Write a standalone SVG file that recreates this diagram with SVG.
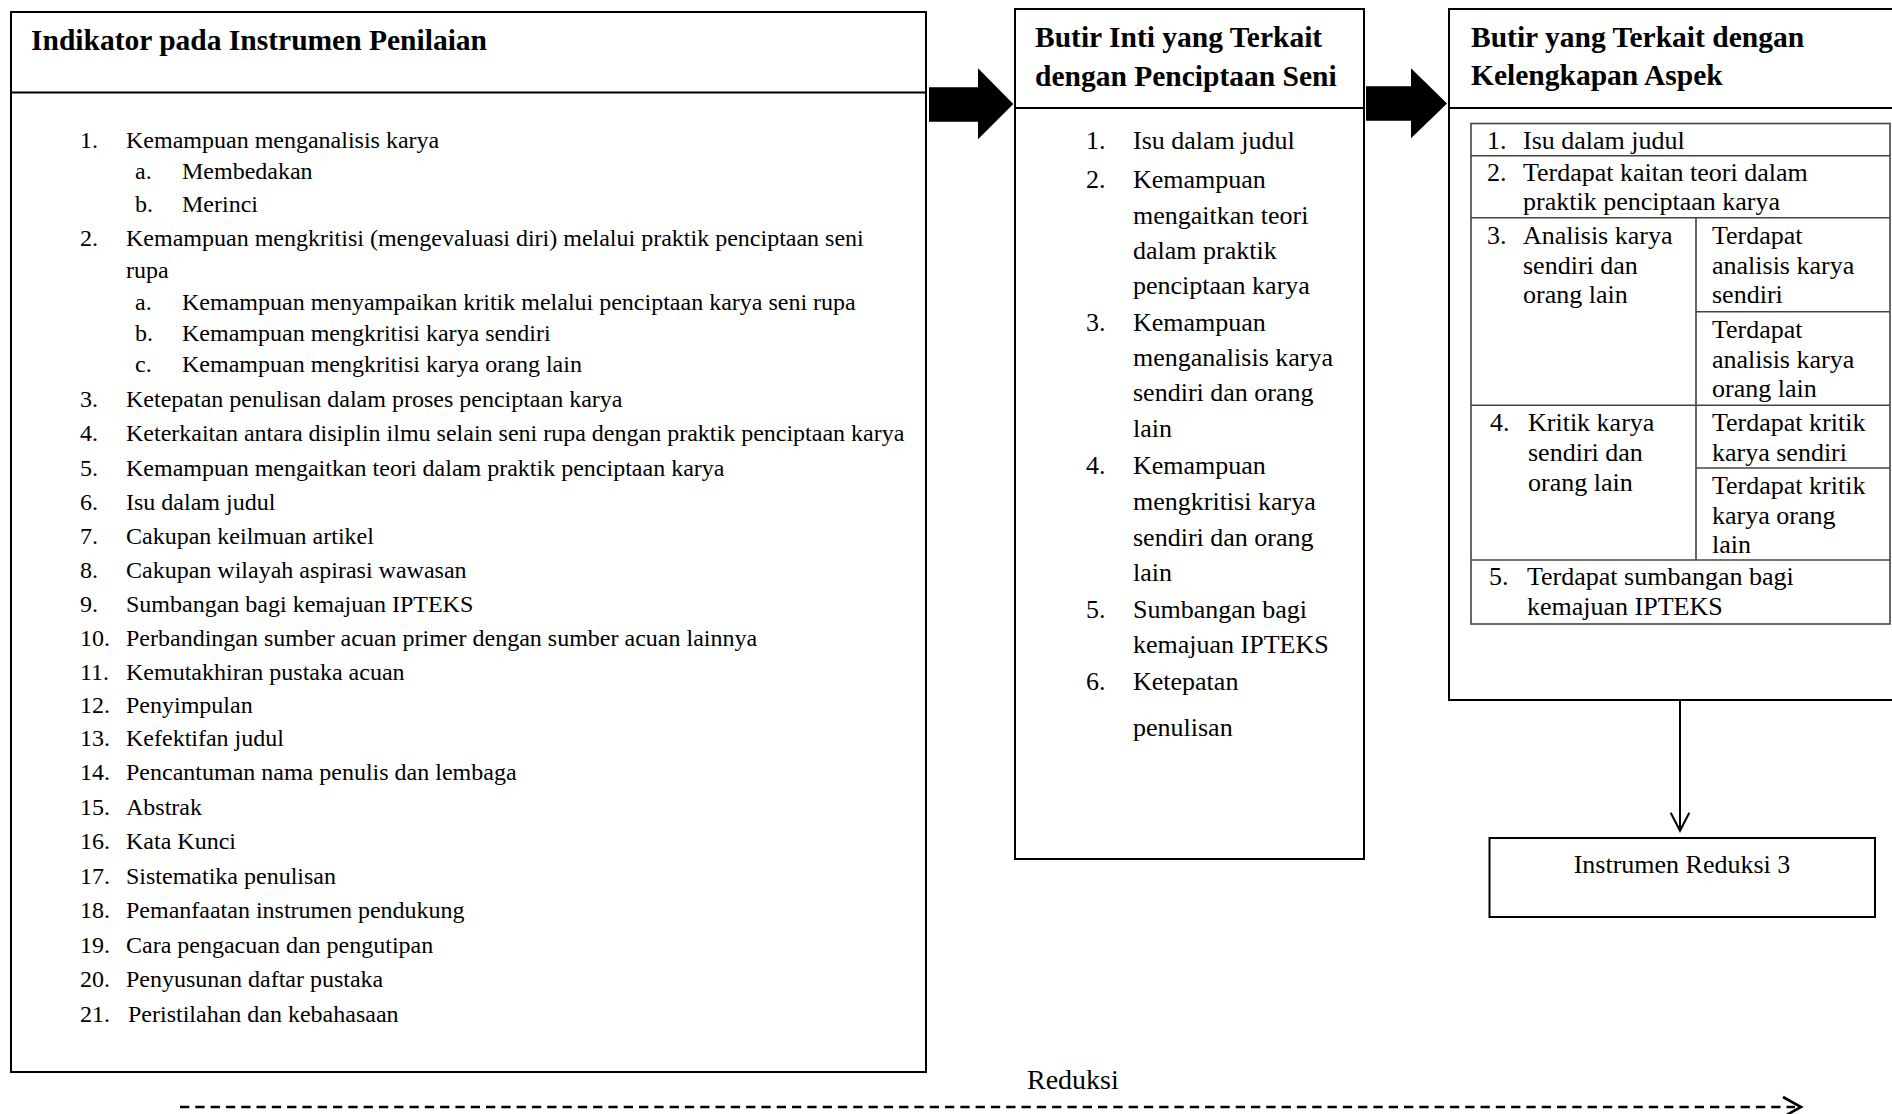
<svg xmlns="http://www.w3.org/2000/svg" width="1892" height="1114" viewBox="0 0 1892 1114">
<style>
text{font-family:"Liberation Serif","Times New Roman",serif;fill:#000}
.t{font-size:29.5px;font-weight:bold}
.l{font-size:24px}
.m{font-size:26px}
.g{font-size:26px}
.box{fill:#fff;stroke:#000;stroke-width:2}
.hl{stroke:#000;stroke-width:2}
.tb{fill:none;stroke:#444;stroke-width:1.6}
.conn{fill:none;stroke:#000}
</style>
<rect width="1892" height="1114" fill="#fff"/>

<g id="node-indikator">
<rect class="box" x="11" y="12" width="915" height="1060"/>
<line class="hl" x1="11" y1="92.5" x2="926" y2="92.5"/>
<text class="t" x="31" y="50">Indikator pada Instrumen Penilaian</text>
<g class="l">
<text x="80" y="148">1.</text><text x="126" y="148">Kemampuan menganalisis karya</text>
<text x="135" y="179">a.</text><text x="182" y="179">Membedakan</text>
<text x="135" y="212">b.</text><text x="182" y="212">Merinci</text>
<text x="80" y="246">2.</text><text x="126" y="246">Kemampuan mengkritisi (mengevaluasi diri) melalui praktik penciptaan seni</text>
<text x="126" y="278">rupa</text>
<text x="135" y="310">a.</text><text x="182" y="310">Kemampuan menyampaikan kritik melalui penciptaan karya seni rupa</text>
<text x="135" y="341">b.</text><text x="182" y="341">Kemampuan mengkritisi karya sendiri</text>
<text x="135" y="372">c.</text><text x="182" y="372">Kemampuan mengkritisi karya orang lain</text>
<text x="80" y="407">3.</text><text x="126" y="407">Ketepatan penulisan dalam proses penciptaan karya</text>
<text x="80" y="441">4.</text><text x="126" y="441">Keterkaitan antara disiplin ilmu selain seni rupa dengan praktik penciptaan karya</text>
<text x="80" y="476">5.</text><text x="126" y="476">Kemampuan mengaitkan teori dalam praktik penciptaan karya</text>
<text x="80" y="510">6.</text><text x="126" y="510">Isu dalam judul</text>
<text x="80" y="544">7.</text><text x="126" y="544">Cakupan keilmuan artikel</text>
<text x="80" y="578">8.</text><text x="126" y="578">Cakupan wilayah aspirasi wawasan</text>
<text x="80" y="612">9.</text><text x="126" y="612">Sumbangan bagi kemajuan IPTEKS</text>
<text x="80" y="646">10.</text><text x="126" y="646">Perbandingan sumber acuan primer dengan sumber acuan lainnya</text>
<text x="80" y="680">11.</text><text x="126" y="680">Kemutakhiran pustaka acuan</text>
<text x="80" y="713">12.</text><text x="126" y="713">Penyimpulan</text>
<text x="80" y="746">13.</text><text x="126" y="746">Kefektifan judul</text>
<text x="80" y="780">14.</text><text x="126" y="780">Pencantuman nama penulis dan lembaga</text>
<text x="80" y="815">15.</text><text x="126" y="815">Abstrak</text>
<text x="80" y="849">16.</text><text x="126" y="849">Kata Kunci</text>
<text x="80" y="884">17.</text><text x="126" y="884">Sistematika penulisan</text>
<text x="80" y="918">18.</text><text x="126" y="918">Pemanfaatan instrumen pendukung</text>
<text x="80" y="953">19.</text><text x="126" y="953">Cara pengacuan dan pengutipan</text>
<text x="80" y="987">20.</text><text x="126" y="987">Penyusunan daftar pustaka</text>
<text x="80" y="1022">21.</text><text x="128" y="1022">Peristilahan dan kebahasaan</text>
</g>
</g>

<g id="node-butir-inti">
<rect class="box" x="1015" y="9" width="349" height="850"/>
<line class="hl" x1="1015" y1="108" x2="1364" y2="108"/>
<text class="t" x="1035" y="47">Butir Inti yang Terkait</text>
<text class="t" x="1035" y="86">dengan Penciptaan Seni</text>
<g class="m">
<text x="1086" y="149">1.</text><text x="1133" y="149">Isu dalam judul</text>
<text x="1086" y="188">2.</text><text x="1133" y="188">Kemampuan</text>
<text x="1133" y="224">mengaitkan teori</text>
<text x="1133" y="259">dalam praktik</text>
<text x="1133" y="294">penciptaan karya</text>
<text x="1086" y="331">3.</text><text x="1133" y="331">Kemampuan</text>
<text x="1133" y="366">menganalisis karya</text>
<text x="1133" y="401">sendiri dan orang</text>
<text x="1133" y="437">lain</text>
<text x="1086" y="474">4.</text><text x="1133" y="474">Kemampuan</text>
<text x="1133" y="510">mengkritisi karya</text>
<text x="1133" y="546">sendiri dan orang</text>
<text x="1133" y="581">lain</text>
<text x="1086" y="618">5.</text><text x="1133" y="618">Sumbangan bagi</text>
<text x="1133" y="653">kemajuan IPTEKS</text>
<text x="1086" y="690">6.</text><text x="1133" y="690">Ketepatan</text>
<text x="1133" y="736">penulisan</text>
</g>
</g>

<g id="node-kelengkapan">
<rect class="box" x="1449" y="9" width="460" height="691"/>
<line class="hl" x1="1449" y1="108" x2="1892" y2="108"/>
<text class="t" x="1471" y="47">Butir yang Terkait dengan</text>
<text class="t" x="1471" y="85">Kelengkapan Aspek</text>
<g class="tb">
<rect x="1471" y="123.5" width="419" height="500.5"/>
<line x1="1471" y1="155.7" x2="1890" y2="155.7"/>
<line x1="1471" y1="217.7" x2="1890" y2="217.7"/>
<line x1="1471" y1="405.3" x2="1890" y2="405.3"/>
<line x1="1471" y1="560" x2="1890" y2="560"/>
<line x1="1696" y1="217.7" x2="1696" y2="560"/>
<line x1="1696" y1="311.7" x2="1890" y2="311.7"/>
<line x1="1696" y1="468" x2="1890" y2="468"/>
</g>
<g class="g">
<text x="1487" y="149">1.</text><text x="1523" y="149">Isu dalam judul</text>
<text x="1487" y="181">2.</text><text x="1523" y="181">Terdapat kaitan teori dalam</text>
<text x="1523" y="210">praktik penciptaan karya</text>
<text x="1487" y="244">3.</text><text x="1523" y="244">Analisis karya</text>
<text x="1523" y="274">sendiri dan</text>
<text x="1523" y="303">orang lain</text>
<text x="1712" y="244">Terdapat</text>
<text x="1712" y="274">analisis karya</text>
<text x="1712" y="303">sendiri</text>
<text x="1712" y="338">Terdapat</text>
<text x="1712" y="368">analisis karya</text>
<text x="1712" y="397">orang lain</text>
<text x="1490" y="431">4.</text><text x="1528" y="431">Kritik karya</text>
<text x="1528" y="461">sendiri dan</text>
<text x="1528" y="491">orang lain</text>
<text x="1712" y="431">Terdapat kritik</text>
<text x="1712" y="461">karya sendiri</text>
<text x="1712" y="494">Terdapat kritik</text>
<text x="1712" y="524">karya orang</text>
<text x="1712" y="553">lain</text>
<text x="1489" y="585">5.</text><text x="1527" y="585">Terdapat sumbangan bagi</text>
<text x="1527" y="615">kemajuan IPTEKS</text>
</g>
</g>

<g id="node-instrumen-reduksi-3">
<rect class="box" x="1489.5" y="838" width="385.5" height="79"/>
<text class="g" x="1682" y="873" text-anchor="middle">Instrumen Reduksi 3</text>
</g>

<g id="connectors">
<path d="M929 87.3 H978 V68.3 L1013.3 104 L978 139.3 V121.7 H929 Z" fill="#000"/>
<path d="M1366 86.3 H1411 V68.3 L1447 103.5 L1411 138.3 V120.7 H1366 Z" fill="#000"/>
<line class="conn" x1="1680" y1="700" x2="1680" y2="829" stroke-width="2"/>
<polyline class="conn" points="1670.7,812.7 1680,830.7 1689.3,812.7" stroke-width="2"/>
<line class="conn" x1="180" y1="1107" x2="1795" y2="1107" stroke-width="2.6" stroke-dasharray="9.3 6"/>
<polyline class="conn" points="1783,1097 1801,1107 1783,1117" stroke-width="2.6"/>
<text x="1027" y="1089" font-size="28">Reduksi</text>
</g>
</svg>
